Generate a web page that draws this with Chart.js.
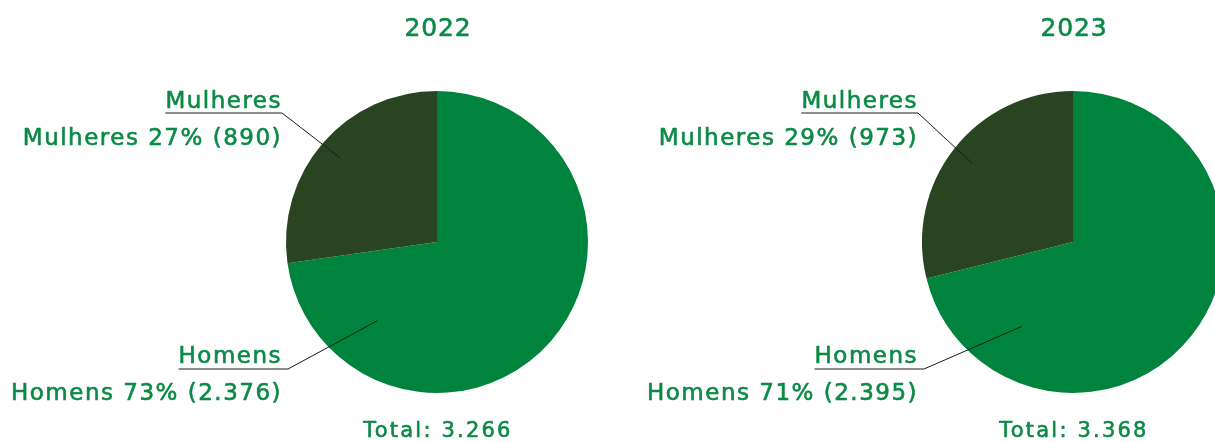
<!DOCTYPE html>
<html>
<head>
<meta charset="utf-8">
<script src="https://cdn.jsdelivr.net/npm/chart.js@4.4.1/dist/chart.umd.min.js"></script>
<style>
  html, body { margin: 0; padding: 0; background: #ffffff; overflow: hidden; width: 1215px; height: 442px; }
  canvas { position: absolute; top: 0; }
  #pie2022 { left: 0; }
  #pie2023 { left: 607px; }
</style>
</head>
<body>
<canvas id="pie2022" width="607" height="442"></canvas>
<canvas id="pie2023" width="640" height="442"></canvas>
<script>
// Data
var categories = ["Homens", "Mulheres"];
var years = ["2022", "2023"];
var values2022 = [2376, 890];
var values2023 = [2395, 973];
var percents2022 = [73, 27];
var percents2023 = [71, 29];
var totals = ["3.266", "3.368"];

var GREEN = "#00843d";
var DARK = "#284421";
var TEXT = "#0b8a45";
var FONT = "'DejaVu Sans', sans-serif";

function fmt(n) {
  return n.toLocaleString("pt-BR");
}

// slightly heavier text than the regular face
function text(c, s, x, y) {
  c.fillText(s, x, y);
  c.strokeText(s, x, y);
}

// draws title, total and the two callouts with leader lines
var calloutPlugin = {
  id: "callouts",
  afterDraw: function (chart, args, opts) {
    var c = chart.ctx;
    var meta = chart.getDatasetMeta(0);
    var homens = meta.data[0];
    var mulheres = meta.data[1];
    var cx = homens.x, cy = homens.y, r = homens.outerRadius;
    var vals = chart.data.datasets[0].data;

    c.save();
    c.fillStyle = TEXT;
    c.strokeStyle = TEXT;
    c.lineWidth = 0.6;
    c.lineJoin = "round";
    c.textBaseline = "alphabetic";

    // title
    c.font = "25px " + FONT;
    c.letterSpacing = "0.8px";
    c.textAlign = "center";
    text(c, opts.year, cx + 1, 36);

    // total
    c.font = "21px " + FONT;
    c.letterSpacing = "2.2px";
    text(c, "Total: " + opts.total, cx + 1, 437);

    c.font = "23px " + FONT;
    c.letterSpacing = "1.5px";
    c.textAlign = "right";
    var right = cx - 155;

    // Mulheres
    var mAng = (mulheres.startAngle + mulheres.endAngle) / 2;
    var mx = cx + Math.cos(mAng) * r * 0.85;
    var my = cy + Math.sin(mAng) * r * 0.85;
    text(c, categories[1], right, cy - 134);
    text(c, categories[1] + " " + opts.percents[1] + "% (" + fmt(vals[1]) + ")", right, cy - 97);
    var wM = c.measureText(categories[1]).width;
    c.strokeStyle = "#666666";
    c.lineWidth = 1.5;
    c.beginPath();
    c.moveTo(right - wM, cy - 129);
    c.lineTo(cx - 155, cy - 129);
    c.stroke();
    c.strokeStyle = "#1a1a1a";
    c.lineWidth = 1;
    c.beginPath();
    c.moveTo(cx - 155, cy - 129);
    c.lineTo(mx, my);
    c.stroke();

    // Homens
    c.strokeStyle = TEXT;
    c.lineWidth = 0.6;
    var hAng = homens.endAngle - 0.78;
    var hx = cx + Math.cos(hAng) * r * 0.655;
    var hy = cy + Math.sin(hAng) * r * 0.655;
    text(c, categories[0], right, cy + 121);
    text(c, categories[0] + " " + opts.percents[0] + "% (" + fmt(vals[0]) + ")", right, cy + 158);
    var wH = c.measureText(categories[0]).width;
    c.strokeStyle = "#666666";
    c.lineWidth = 1.5;
    c.beginPath();
    c.moveTo(right - wH, cy + 127);
    c.lineTo(cx - 149, cy + 127);
    c.stroke();
    c.strokeStyle = "#1a1a1a";
    c.lineWidth = 1;
    c.beginPath();
    c.moveTo(cx - 149, cy + 127);
    c.lineTo(hx, hy);
    c.stroke();

    c.restore();
  },
};

function makePie(id, values, percents, year, total, pad) {
  return new Chart(document.getElementById(id), {
    type: "pie",
    data: {
      labels: categories,
      datasets: [
        {
          data: values,
          backgroundColor: [GREEN, DARK],
          borderWidth: 0,
        },
      ],
    },
    options: {
      responsive: false,
      animation: false,
      layout: { padding: pad },
      plugins: {
        legend: { display: false },
        tooltip: { enabled: false },
        callouts: { year: year, total: total, percents: percents },
      },
    },
    plugins: [calloutPlugin],
  });
}

makePie("pie2022", values2022, percents2022, years[0], totals[0], { left: 286, right: 19, top: 91, bottom: 49 });
makePie("pie2023", values2023, percents2023, years[1], totals[1], { left: 315, right: 23, top: 91, bottom: 49 });
</script>
</body>
</html>
